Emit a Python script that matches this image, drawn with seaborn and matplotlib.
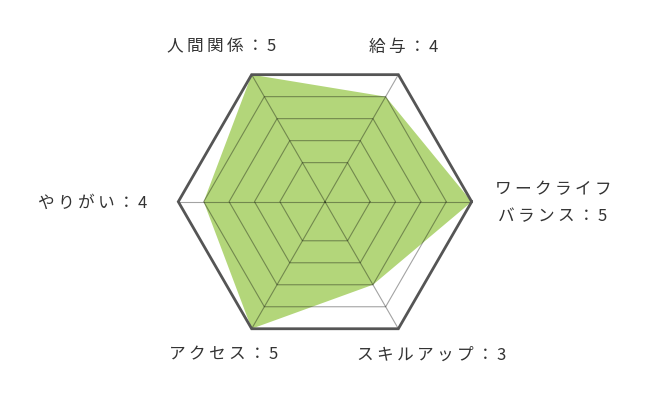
import numpy as np
import matplotlib
matplotlib.use("Agg")
import matplotlib.pyplot as plt
import seaborn as sns

# radar data, counter-clockwise from the right-hand spoke
categories = ["ワークライフ\nバランス", "給与", "人間関係", "やりがい", "アクセス", "スキルアップ"]
scores = [5, 4, 5, 4, 5, 3]
levels = [1, 2, 3, 4, 5]
max_score = 5
centre_value = -0.776  # the middle of the chart sits a bit below zero

# label centres in figure pixels (x from left, y from top)
label_px = [(553, 203), (404, 47), (222, 47), (93, 203), (224, 355), (432, 355)]

sns.set_theme(style="white")
plt.rcParams['font.family'] = ['Noto Sans CJK JP', 'DejaVu Sans']

W, H = 650, 409
fig = plt.figure(figsize=(W / 100, H / 100), dpi=100)
ax = fig.add_axes([0, 0, 1, 1])

cx, cy, outer_px = 325, 201.7, 146.7
unit = outer_px / (max_score - centre_value)
ax.set_xlim(-cx / unit, (W - cx) / unit)
ax.set_ylim(-(H - cy) / unit, cy / unit)
ax.set_aspect('equal')
ax.axis('off')

n = len(categories)
theta = np.deg2rad(np.arange(n) * 360 / n)


def ring(values):
    r = np.asarray(values, dtype=float) - centre_value
    x = r * np.cos(theta)
    y = r * np.sin(theta)
    return np.append(x, x[0]), np.append(y, y[0])


# filled score polygon
sx, sy = ring(scores)
ax.fill(sx, sy, color='#b3d67a', lw=0, zorder=1)

# inner grid rings and spokes (drawn on top, translucent)
for lv in levels[:-1]:
    gx, gy = ring([lv] * n)
    ax.plot(gx, gy, color='black', alpha=0.36, lw=0.8, zorder=2)
ox, oy = ring([max_score] * n)
for i in range(n):
    ax.plot([0, ox[i]], [0, oy[i]], color='black', alpha=0.36, lw=0.8, zorder=2)

# outer ring
ax.plot(ox, oy, color='#555555', lw=2.0, zorder=3, solid_joinstyle='miter')


def spaced(s):
    # a little letter spacing, as in the original
    return '\n'.join('\u2009'.join(line) for line in s.split('\n'))


for cat, val, (px, py) in zip(categories, scores, label_px):
    txt = spaced(f"{cat}：{val}")
    ax.text(px / W, 1 - py / H, txt, transform=fig.transFigure,
            ha='center', va='center', fontsize=12, color='#333333',
            linespacing=1.75)

fig.savefig('out.png', dpi=100)
